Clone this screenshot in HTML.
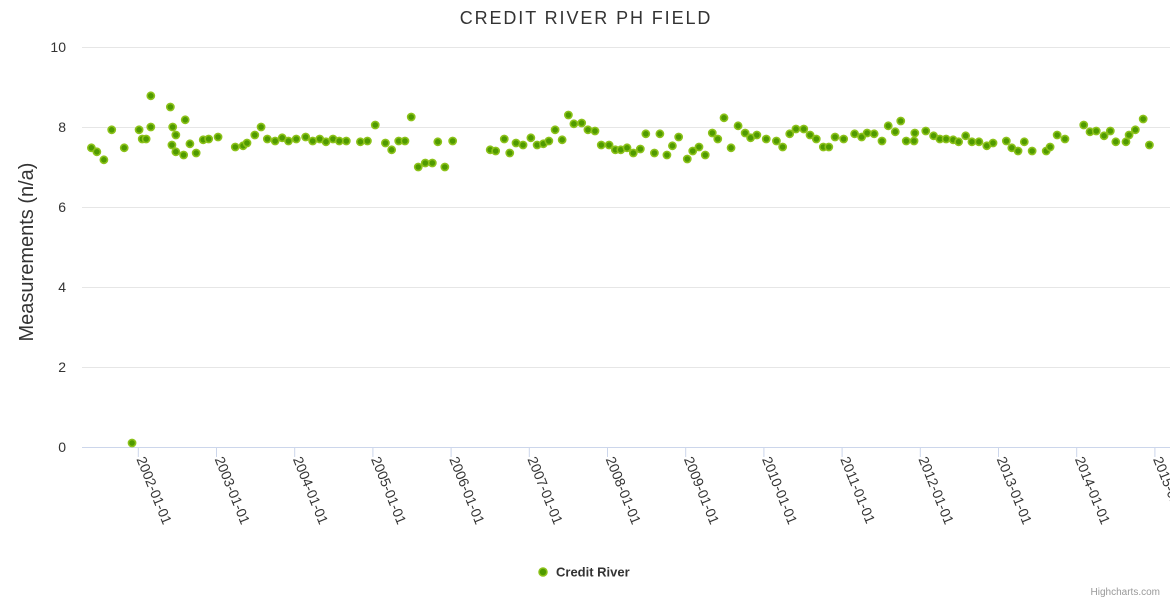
<!DOCTYPE html>
<html><head><meta charset="utf-8"><style>
body{margin:0;background:#fff;}
svg{font-family:"Liberation Sans",sans-serif;display:block;}
</style></head><body>
<svg id="chart" width="1170" height="600">
<text x="586" y="24" text-anchor="middle" font-size="18" letter-spacing="1.9" fill="#333">CREDIT RIVER PH FIELD</text>
<g id="grid"></g>
<g id="xaxis"></g>
<g id="yaxis"></g>
<text transform="translate(33,252) rotate(-90)" text-anchor="middle" font-size="20" fill="#333">Measurements (n/a)</text>
<g id="series"></g>
<g>
<circle cx="543" cy="572" r="4" fill="#4f9a00" stroke="#8cc21a" stroke-width="1.5"/>
<text x="556" y="576.5" font-size="13" font-weight="bold" fill="#333">Credit River</text>
</g>
<text x="1160" y="595" text-anchor="end" font-size="10" fill="#999">Highcharts.com</text>
</svg>
<script>
const yTicks=[0,2,4,6,8,10];
const xTickYears=[2002,2003,2004,2005,2006,2007,2008,2009,2010,2011,2012,2013,2014,2015];
const dates=[2001.40,2001.47,2001.56,2001.66,2001.82,2001.92,2002.01,2002.05,2002.10,2002.16,2002.16,2002.41,2002.43,2002.44,2002.48,2002.48,2002.58,2002.60,2002.66,2002.74,2002.83,2002.90,2003.02,2003.24,2003.34,2003.39,2003.49,2003.57,2003.65,2003.75,2003.84,2003.92,2004.02,2004.14,2004.23,2004.32,2004.40,2004.49,2004.57,2004.66,2004.84,2004.93,2005.03,2005.16,2005.24,2005.33,2005.41,2005.49,2005.58,2005.67,2005.76,2005.83,2005.92,2006.02,2006.50,2006.57,2006.68,2006.75,2006.83,2006.92,2007.02,2007.10,2007.18,2007.25,2007.33,2007.42,2007.50,2007.57,2007.67,2007.75,2007.84,2007.92,2008.02,2008.10,2008.17,2008.25,2008.33,2008.42,2008.49,2008.60,2008.67,2008.76,2008.83,2008.91,2009.02,2009.09,2009.17,2009.25,2009.34,2009.41,2009.49,2009.58,2009.67,2009.76,2009.83,2009.91,2010.03,2010.16,2010.24,2010.33,2010.41,2010.51,2010.59,2010.67,2010.76,2010.83,2010.91,2011.02,2011.16,2011.25,2011.32,2011.41,2011.51,2011.59,2011.68,2011.75,2011.82,2011.92,2011.93,2012.07,2012.17,2012.25,2012.33,2012.42,2012.49,2012.58,2012.66,2012.75,2012.85,2012.93,2013.10,2013.17,2013.25,2013.33,2013.43,2013.61,2013.66,2013.75,2013.85,2014.09,2014.17,2014.25,2014.35,2014.43,2014.50,2014.63,2014.67,2014.75,2014.85,2014.93];
const phValues=[7.48,7.38,7.18,7.93,7.48,0.1,7.93,7.7,7.7,8.0,8.78,8.5,7.55,8.0,7.8,7.38,7.3,8.18,7.58,7.35,7.68,7.7,7.75,7.5,7.53,7.6,7.8,8.0,7.7,7.65,7.73,7.65,7.7,7.75,7.65,7.7,7.63,7.7,7.65,7.65,7.63,7.65,8.05,7.6,7.43,7.65,7.65,8.25,7.0,7.1,7.1,7.63,7.0,7.65,7.43,7.4,7.7,7.35,7.6,7.55,7.73,7.55,7.58,7.65,7.93,7.68,8.3,8.08,8.1,7.93,7.9,7.55,7.55,7.43,7.43,7.48,7.35,7.45,7.83,7.35,7.83,7.3,7.53,7.75,7.2,7.4,7.5,7.3,7.85,7.7,8.23,7.48,8.03,7.85,7.73,7.8,7.7,7.65,7.5,7.83,7.95,7.95,7.8,7.7,7.5,7.5,7.75,7.7,7.83,7.75,7.85,7.83,7.65,8.03,7.88,8.15,7.65,7.65,7.85,7.9,7.78,7.7,7.7,7.68,7.63,7.78,7.63,7.63,7.53,7.6,7.65,7.48,7.4,7.63,7.4,7.4,7.5,7.8,7.7,8.05,7.88,7.9,7.78,7.9,7.63,7.63,7.8,7.93,8.2,7.55];
const NS='http://www.w3.org/2000/svg';
const X0=82,X1=1170,Y0=447,Y1=47;
function xs(t){return 138.3+(t-2002)*78.2;}
function ys(v){return Y0-(v/10)*(Y0-Y1);}
const grid=document.getElementById('grid'),ya=document.getElementById('yaxis'),xa=document.getElementById('xaxis'),ser=document.getElementById('series');
function mk(tag,attrs,parent){const e=document.createElementNS(NS,tag);for(const k in attrs)e.setAttribute(k,attrs[k]);parent.appendChild(e);return e;}
yTicks.forEach(v=>{
  const l=mk('line',{x1:X0,x2:X1,y1:ys(v)+0.5,y2:ys(v)+0.5,stroke:v===0?'#ccd6eb':'#e6e6e6'},grid);
  
  
  const t=mk('text',{x:66,y:ys(v)+5,'text-anchor':'end','font-size':14,fill:'#333'},ya);
  t.textContent=v;
  
  
});
xTickYears.forEach(yr=>{
  const x=xs(yr);
  const l=mk('line',{x1:x,x2:x,y1:Y0,y2:Y0+10,stroke:'#ccd6eb'},xa);
  
  
  const t=mk('text',{transform:`translate(${x-2},${Y0+12}) rotate(68)`,'font-size':14,fill:'#333'},xa);
  t.textContent=yr+'-01-01';
  
  
});
dates.forEach((d,i)=>{
  const c=mk('circle',{cx:xs(d),cy:ys(phValues[i]),r:3.6,fill:'#4f9a00',stroke:'#8cc21a','stroke-width':1.6},ser);
  
  
});
</script>
</body></html>
